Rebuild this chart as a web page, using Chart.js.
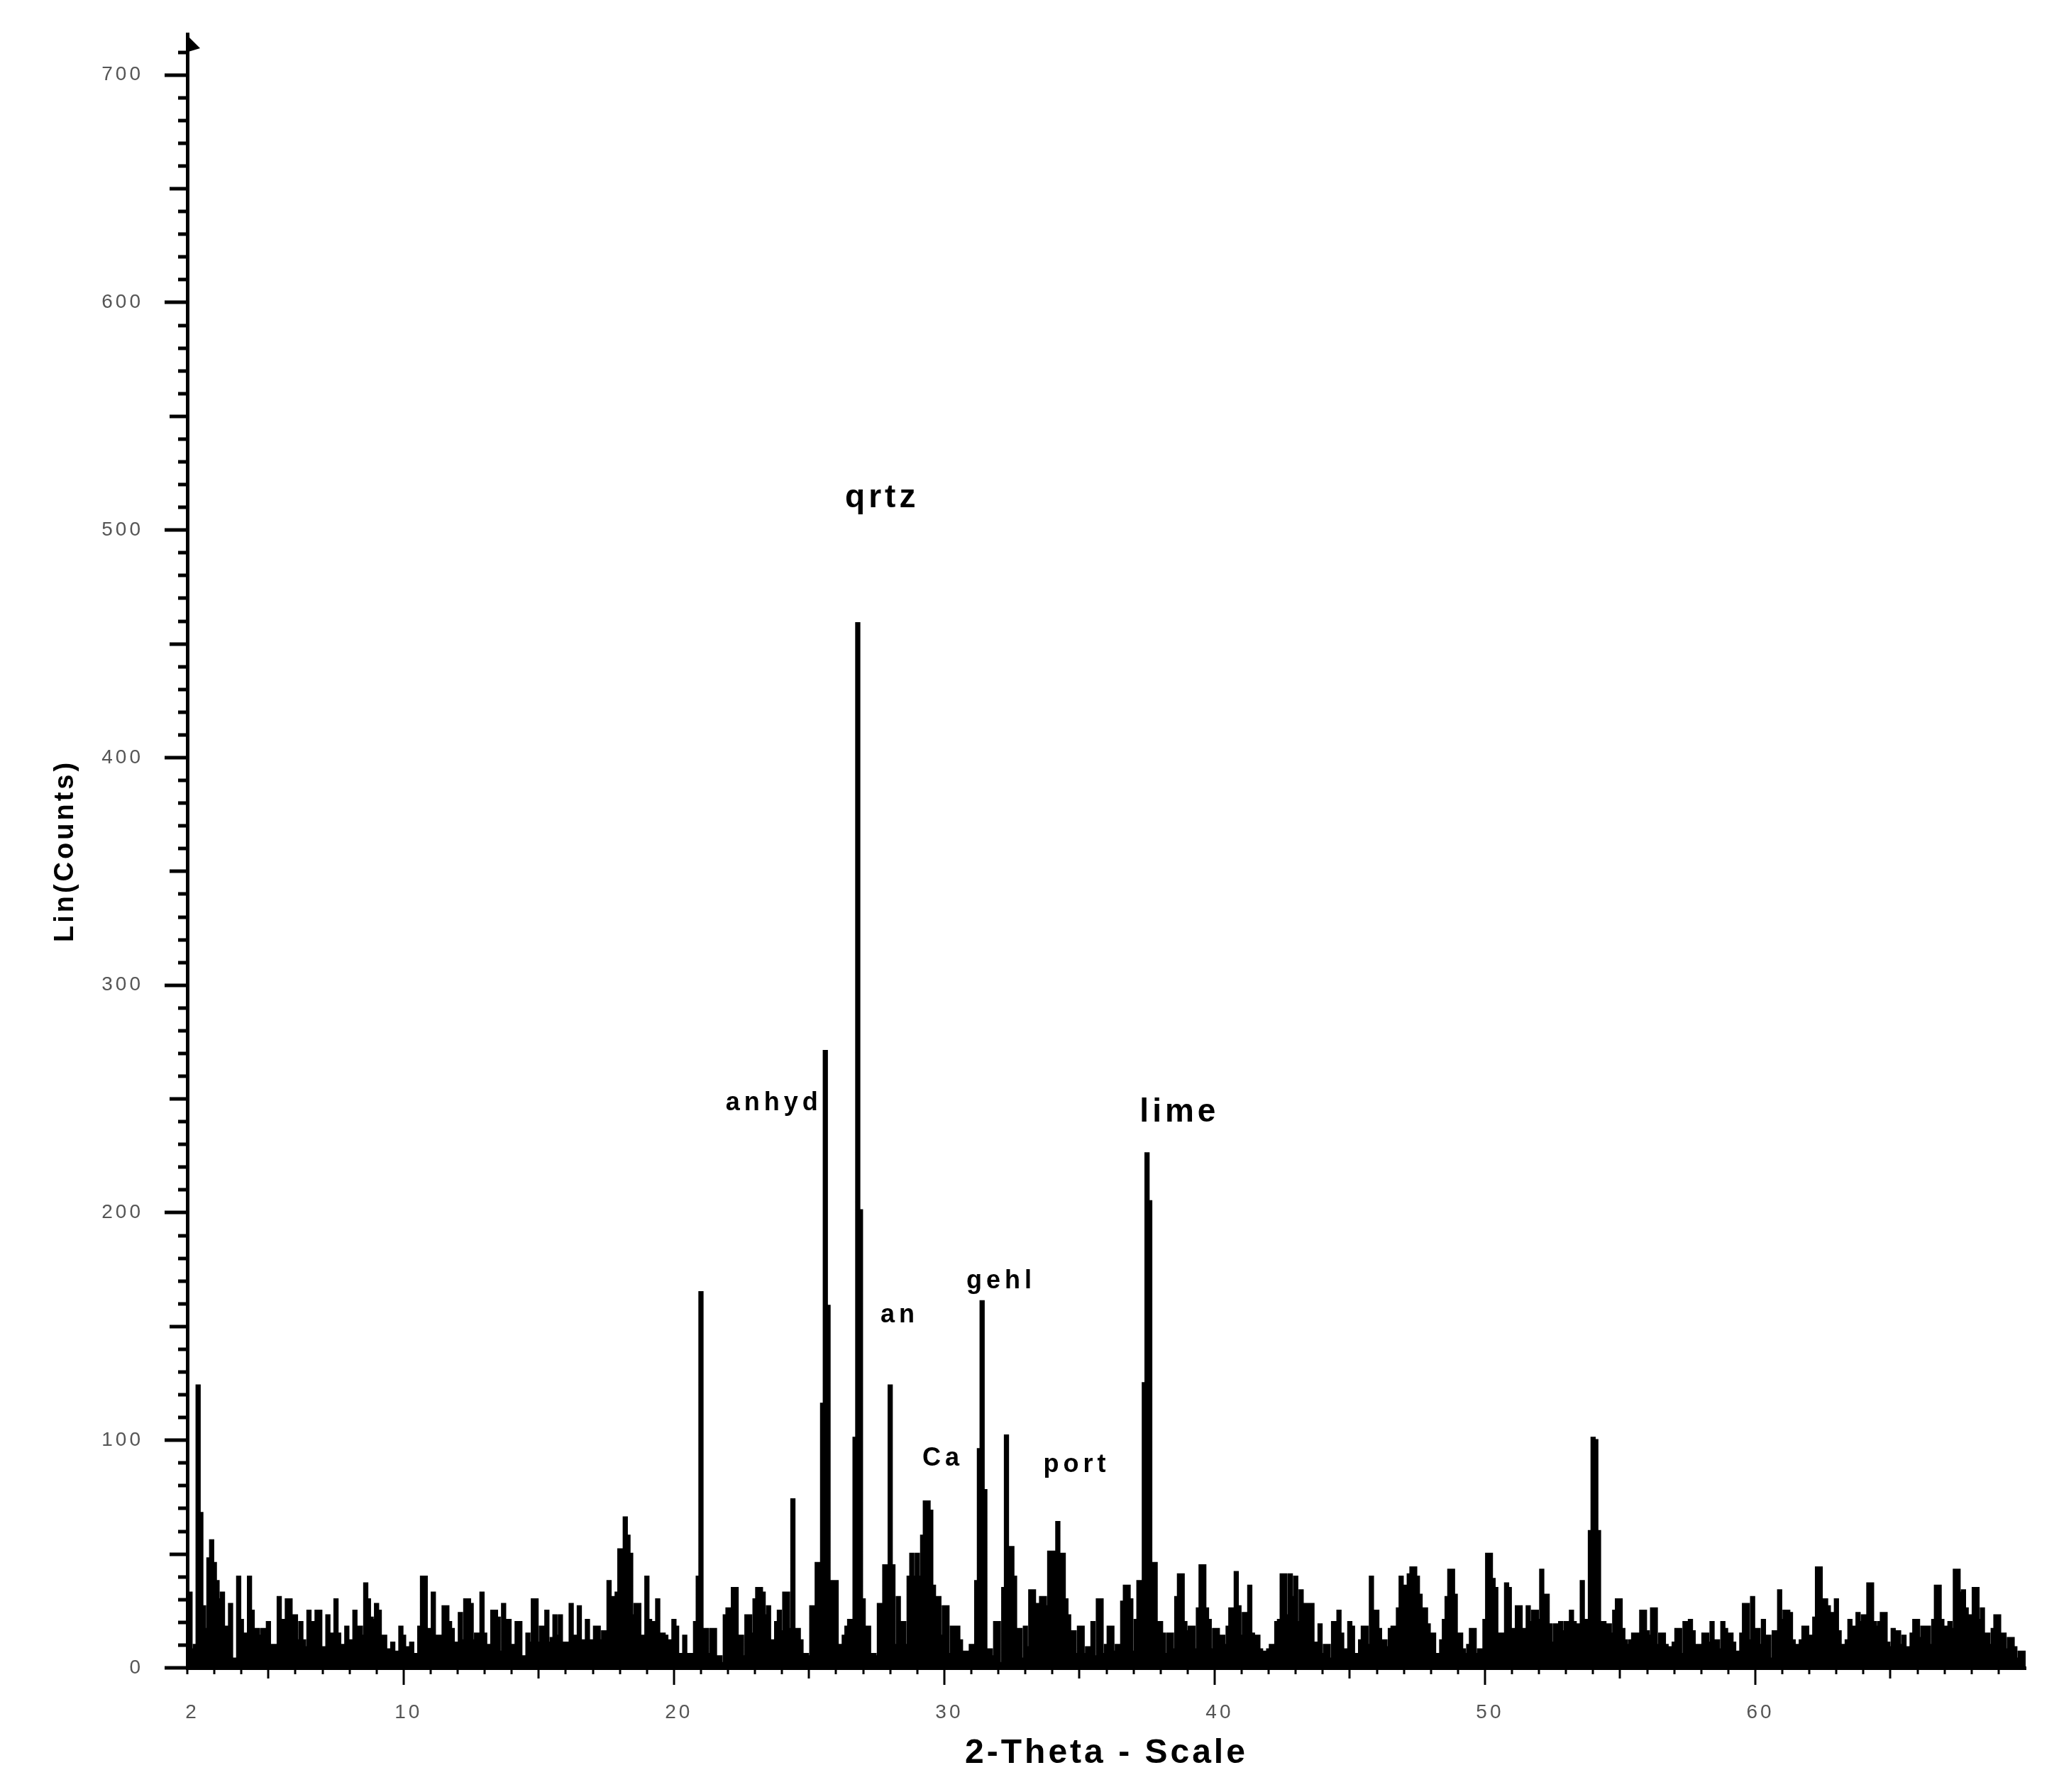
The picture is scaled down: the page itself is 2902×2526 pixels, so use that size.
<!DOCTYPE html>
<html>
<head>
<meta charset="utf-8">
<title>XRD pattern</title>
<script src="https://cdn.jsdelivr.net/npm/chart.js@4.4.1/dist/chart.umd.min.js"></script>
<style>
  html, body { margin: 0; padding: 0; background: #fff; }
  canvas { display: block; }
</style>
</head>
<body>
<canvas id="xrdChart" width="2902" height="2526"></canvas>
<script>
// one reading every 0.1 degree 2-theta, starting at 2.0
const thetaStart = 2.0;
const thetaStep = 0.1;

// Lin(Counts), ten readings per row
const counts02to10 = [
  5, 33, 8, 10, 124, 68, 27, 17, 48, 56,
  46, 38, 30, 33, 18, 18, 28, 4, 4, 40,
  21, 15, 15, 40, 25, 17, 17, 14, 17, 17,
  20, 10, 10, 10, 31, 21, 21, 30, 30, 23,
  23, 12, 20, 12, 9, 25, 20, 20, 25, 25,
  9, 9, 23, 15, 15, 30, 15, 10, 10, 18,
  12, 12, 25, 18, 18, 14, 37, 30, 22, 21,
  28, 25, 14, 14, 8, 8, 11, 7, 7, 18
];
const counts10to20 = [
  14, 9, 9, 11, 6, 6, 18, 40, 40, 17,
  17, 33, 14, 14, 14, 27, 27, 20, 17, 11,
  11, 24, 12, 30, 30, 28, 12, 15, 15, 33,
  15, 10, 10, 25, 25, 22, 7, 28, 21, 21,
  10, 10, 20, 20, 5, 5, 15, 11, 30, 30,
  11, 18, 18, 25, 11, 13, 23, 14, 23, 11,
  11, 11, 28, 14, 14, 27, 12, 12, 21, 12,
  12, 18, 18, 12, 16, 16, 38, 31, 31, 33,
  52, 52, 66, 58, 50, 23, 28, 28, 14, 14,
  40, 21, 20, 20, 30, 15, 15, 14, 12, 12
];
const counts20to30 = [
  21, 18, 6, 6, 14, 6, 6, 6, 20, 40,
  165, 17, 17, 6, 17, 17, 5, 5, 2, 23,
  26, 26, 35, 35, 14, 14, 5, 23, 23, 15,
  30, 35, 35, 33, 23, 27, 12, 12, 20, 25,
  16, 33, 33, 17, 74, 17, 17, 12, 6, 6,
  5, 27, 27, 46, 46, 116, 271, 159, 38, 38,
  38, 10, 10, 14, 18, 21, 21, 101, 459, 201,
  30, 18, 18, 6, 6, 5, 28, 28, 45, 45,
  124, 45, 10, 31, 20, 20, 10, 40, 50, 40,
  50, 40, 58, 73, 73, 69, 36, 31, 31, 14
];
const counts30to40 = [
  27, 27, 6, 18, 18, 18, 12, 7, 7, 7,
  10, 10, 38, 96, 161, 78, 8, 8, 5, 20,
  20, 2, 35, 102, 53, 53, 40, 17, 17, 4,
  18, 9, 34, 34, 28, 28, 31, 31, 27, 51,
  51, 51, 64, 50, 50, 30, 23, 16, 16, 6,
  18, 18, 6, 9, 9, 20, 5, 30, 30, 6,
  10, 18, 18, 7, 10, 10, 29, 36, 36, 30,
  7, 21, 38, 38, 125, 226, 205, 46, 46, 20,
  20, 15, 6, 15, 15, 8, 31, 41, 41, 20,
  16, 18, 18, 8, 26, 45, 45, 26, 21, 8
];
const counts40to50 = [
  17, 17, 14, 14, 10, 18, 26, 26, 42, 27,
  14, 24, 24, 36, 15, 14, 14, 8, 7, 7,
  8, 10, 10, 20, 21, 41, 41, 23, 41, 31,
  40, 20, 34, 28, 28, 28, 28, 11, 11, 19,
  6, 10, 10, 4, 20, 20, 25, 15, 8, 8,
  20, 18, 6, 6, 12, 18, 18, 10, 40, 25,
  25, 17, 12, 12, 9, 17, 18, 18, 26, 40,
  36, 36, 41, 44, 44, 40, 32, 26, 26, 19,
  15, 15, 6, 6, 12, 21, 31, 43, 43, 32,
  15, 15, 8, 6, 10, 17, 17, 6, 8, 8
];
const counts50to60 = [
  21, 50, 50, 39, 35, 15, 15, 15, 37, 35,
  17, 17, 27, 27, 17, 17, 27, 20, 25, 25,
  21, 43, 32, 32, 19, 11, 19, 19, 20, 16,
  20, 20, 25, 20, 19, 19, 38, 21, 21, 60,
  101, 100, 60, 20, 20, 19, 19, 15, 25, 30,
  30, 17, 12, 10, 12, 15, 15, 15, 25, 25,
  16, 14, 26, 26, 10, 15, 15, 10, 9, 9,
  11, 17, 17, 6, 20, 20, 21, 16, 10, 10,
  10, 15, 15, 11, 20, 12, 12, 8, 20, 17,
  15, 15, 11, 7, 7, 15, 28, 28, 12, 31
];
const counts60to70 = [
  17, 17, 10, 21, 14, 14, 4, 16, 16, 34,
  21, 25, 25, 24, 12, 10, 10, 12, 18, 18,
  14, 14, 22, 44, 44, 30, 30, 27, 24, 24,
  30, 16, 10, 10, 12, 21, 18, 18, 24, 20,
  23, 23, 37, 37, 20, 18, 20, 24, 24, 11,
  9, 17, 16, 16, 10, 14, 9, 9, 15, 21,
  21, 13, 18, 18, 18, 10, 21, 36, 36, 21,
  18, 18, 20, 17, 43, 43, 33, 34, 26, 23,
  23, 35, 35, 21, 26, 15, 15, 10, 17, 23,
  23, 15, 15, 8, 13, 13, 9, 4, 7, 7,
  7
];

const xTickLabels = [2, 10, 20, 30, 40, 50, 60];
const yTickLabels = [0, 100, 200, 300, 400, 500, 600, 700];

// phase names and where they sit (2-theta, counts)
const peakNames = ['qrtz', 'anhyd', 'lime', 'gehl', 'an', 'Ca', 'port'];
const peakNameTheta = [27.7, 23.7, 38.7, 32.1, 28.35, 29.95, 34.9];
const peakNameCounts = [514, 248, 244, 170, 155, 92, 89];

const counts = [].concat(counts02to10, counts10to20, counts20to30,
  counts30to40, counts40to50, counts50to60, counts60to70);
const points = counts.map((c, i) => ({ x: +(thetaStart + i * thetaStep).toFixed(1), y: c }));

const FONT = '"Liberation Sans", Arial, Helvetica, sans-serif';
Chart.defaults.font.family = FONT;

// the old software spaces its letters out
const spacing = {
  id: 'spacing',
  beforeDraw(chart) {
    chart.ctx.letterSpacing = '4px';
  }
};

// minor/major tick marks and the arrow on the count axis
const tickMarks = {
  id: 'tickMarks',
  afterDraw(chart) {
    const ctx = chart.ctx;
    const xs = chart.scales.x;
    const ys = chart.scales.y;
    const area = chart.chartArea;
    ctx.save();
    ctx.strokeStyle = '#000';
    ctx.lineWidth = 5;
    for (let v = 0; v <= 710; v += 10) {
      const y = Math.round(ys.getPixelForValue(v));
      const len = v % 100 === 0 ? 32 : (v % 50 === 0 ? 25 : 13);
      ctx.beginPath();
      ctx.moveTo(area.left - len, y);
      ctx.lineTo(area.left, y);
      ctx.stroke();
    }
    ctx.lineWidth = 3;
    for (let t = 2; t <= 69; t++) {
      const x = Math.round(xs.getPixelForValue(t));
      const len = t % 10 === 0 ? 24 : (t % 5 === 0 ? 15 : 9);
      ctx.beginPath();
      ctx.moveTo(x, area.bottom);
      ctx.lineTo(x, area.bottom + len);
      ctx.stroke();
    }
    ctx.fillStyle = '#000';
    ctx.beginPath();
    ctx.moveTo(area.left - 2, area.top);
    ctx.lineTo(area.left + 18, area.top + 20);
    ctx.lineTo(area.left - 2, area.top + 26);
    ctx.closePath();
    ctx.fill();
    ctx.restore();
  }
};

const peakLabels = {
  id: 'peakLabels',
  afterDatasetsDraw(chart) {
    const ctx = chart.ctx;
    const xs = chart.scales.x;
    const ys = chart.scales.y;
    ctx.save();
    ctx.fillStyle = '#000';
    ctx.textAlign = 'center';
    ctx.textBaseline = 'middle';
    peakNames.forEach((name, i) => {
      const big = name === 'qrtz' || name === 'lime';
      ctx.font = 'bold ' + (big ? 46 : 36) + 'px ' + FONT;
      ctx.letterSpacing = big ? '5px' : '6px';
      ctx.fillText(name, xs.getPixelForValue(peakNameTheta[i]), ys.getPixelForValue(peakNameCounts[i]));
    });
    ctx.restore();
  }
};

new Chart(document.getElementById('xrdChart'), {
  type: 'line',
  data: {
    datasets: [{
      data: points,
      borderColor: '#000',
      backgroundColor: '#000',
      borderWidth: 3.5,
      pointRadius: 0,
      stepped: 'middle',
      fill: 'origin'
    }]
  },
  options: {
    responsive: false,
    animation: false,
    devicePixelRatio: 1,
    layout: { padding: { top: 48, right: 47, left: 0, bottom: 0 } },
    plugins: {
      legend: { display: false },
      tooltip: { enabled: false }
    },
    scales: {
      x: {
        type: 'linear',
        min: 2,
        max: 70,
        afterFit: (scale) => { scale.height = 175; },
        afterBuildTicks: (scale) => { scale.ticks = xTickLabels.map(v => ({ value: v })); },
        grid: { display: false },
        border: { display: true, color: '#000', width: 5 },
        ticks: {
          autoSkip: false,
          maxRotation: 0,
          padding: 38,
          labelOffset: 7,
          color: '#555',
          font: { size: 28 }
        },
        title: {
          display: true,
          text: '2-Theta - Scale',
          color: '#000',
          font: { size: 48, weight: 'bold' },
          padding: { top: 0, bottom: 25 }
        }
      },
      y: {
        type: 'linear',
        min: 0,
        max: 718,
        afterFit: (scale) => { scale.width = 264; },
        afterBuildTicks: (scale) => { scale.ticks = yTickLabels.map(v => ({ value: v })); },
        // tick marks are drawn by the plugin; the hidden tick length only spaces the labels
        grid: { display: false, drawTicks: true, tickLength: 52 },
        border: { display: true, color: '#000', width: 5 },
        ticks: {
          autoSkip: false,
          padding: 10,
          color: '#555',
          font: { size: 28 }
        },
        title: {
          display: true,
          text: 'Lin(Counts)',
          color: '#000',
          font: { size: 38, weight: 'bold' },
          padding: { top: 70, bottom: 0 }
        }
      }
    }
  },
  plugins: [spacing, tickMarks, peakLabels]
});
</script>
</body>
</html>
